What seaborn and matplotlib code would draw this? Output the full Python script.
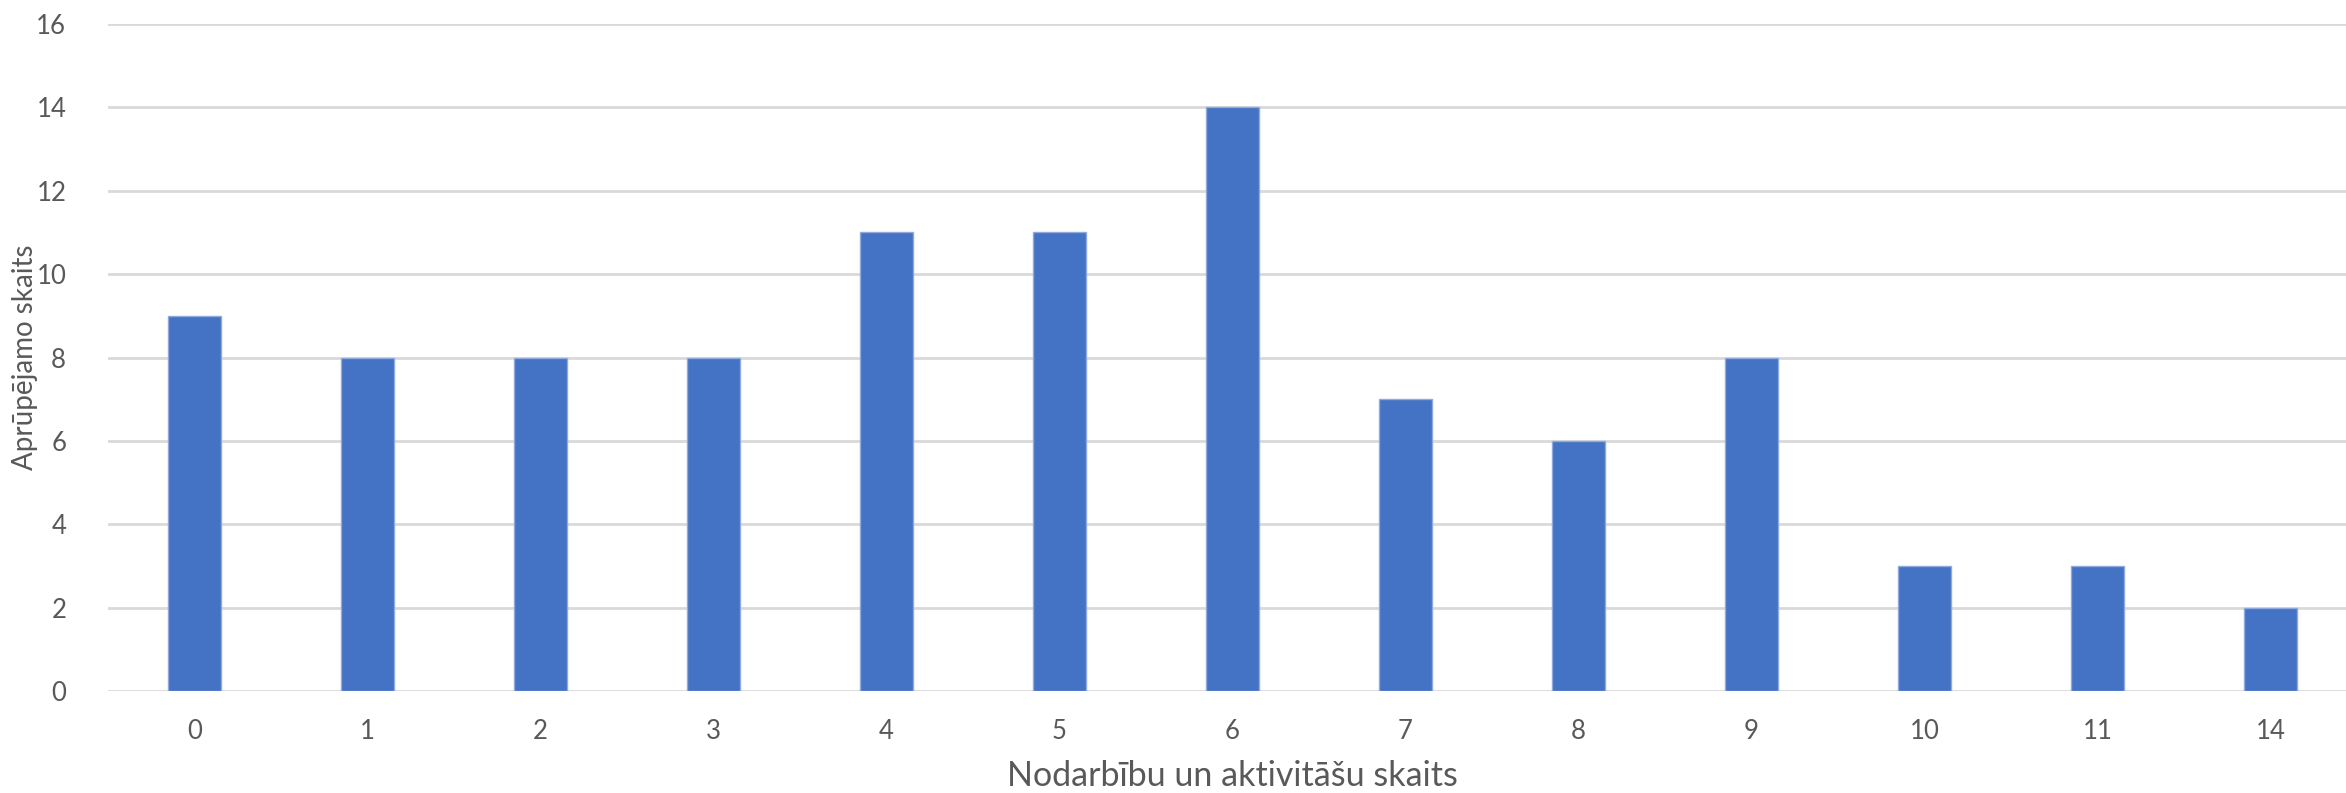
import pandas as pd
import seaborn as sns
import matplotlib.pyplot as plt

# Dati
categories = ["0", "1", "2", "3", "4", "5", "6", "7", "8", "9", "10", "11", "14"]
values = [9, 8, 8, 8, 11, 11, 14, 7, 6, 8, 3, 3, 2]
y_ticks = [0, 2, 4, 6, 8, 10, 12, 14, 16]

df = pd.DataFrame({"kat": categories, "skaits": values})

sns.set_theme(style="white")
plt.rcParams["font.family"] = ["Lato", "DejaVu Sans"]

fig = plt.figure(figsize=(23.46, 7.93), dpi=100)
ax = fig.add_axes([0.046, 0.1286, 0.9587, 0.8411])

sns.barplot(data=df, x="kat", y="skaits", color="#4472C4", width=0.31,
            edgecolor="#8FAADC", linewidth=1, saturation=1, ax=ax, zorder=3)

ax.set_ylim(0, 16)
ax.set_yticks(y_ticks)
ax.set_xlim(-0.5, len(categories) - 0.5)
ax.yaxis.grid(True, color="#D9D9D9", linewidth=2, zorder=0)
for s in ax.spines.values():
    s.set_visible(False)

ax.tick_params(axis="both", length=0, labelsize=18.5, colors="#595959")
ax.tick_params(axis="y", pad=30)
ax.tick_params(axis="x", pad=20)
ax.set_xlabel("Nodarbību un aktivitāšu skaits", fontsize=24.5, color="#595959", labelpad=12)
ax.set_ylabel("Aprūpējamo skaits", fontsize=20, color="#595959")
ax.yaxis.set_label_coords(-0.031, 0.5)

fig.savefig("out.png", dpi=100)
